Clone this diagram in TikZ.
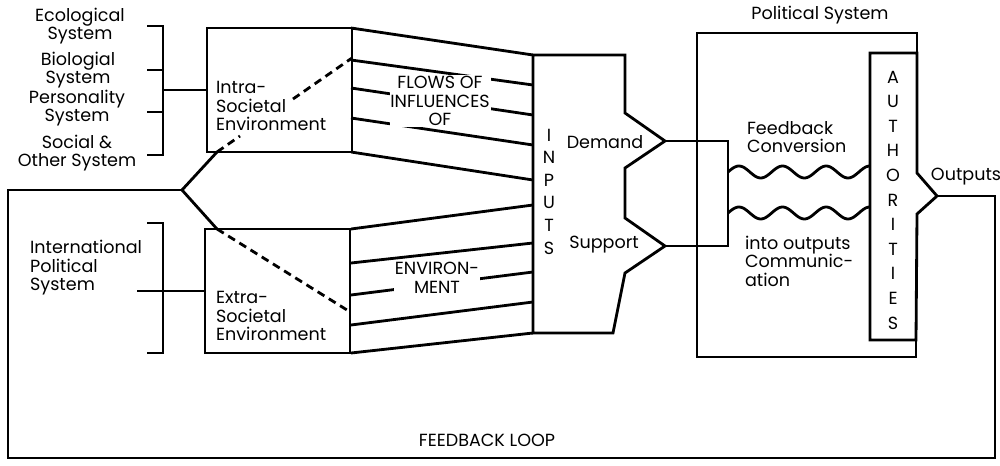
\documentclass[tikz,border=0pt]{standalone}
\usepackage{fontspec}
\setmainfont{Poppins}

\begin{document}
\begin{tikzpicture}[x=0.02cm, y=-0.02cm,
    every node/.style={font=\fontsize{10}{10.5}\selectfont, inner sep=1pt},
    wall/.style={line width=1.6pt},
    envbox/.style={draw, line width=1.6pt, minimum width=2.9cm, minimum height=2.48cm},
    dashwall/.style={line width=1.6pt, dash pattern=on 4.5pt off 3pt},
    txt/.style={align=center},
    ltxt/.style={align=left, anchor=west},
    over/.style={fill=white, align=center, inner sep=0.5pt}]
  \useasboundingbox (0,0) rectangle (1000,466);

  % environments
  \node[envbox] (intra) at (279.5,90) {};
  \node[envbox] (extra) at (277.5,291) {};

  % brackets of the systems
  \draw[wall] (147,26) -- (163,26) -- (163,155) -- (147,155);
  \foreach \y in {70,112} \draw[wall] (147,\y) -- (163,\y);
  \draw[wall] (163,90) -- (intra.west);
  \draw[wall] (147,223) -- (163,223) -- (163,353) -- (147,353);
  \draw[wall] (137,291) -- (extra.west);

  % fork and feedback loop
  \coordinate (fork) at (182,190);
  \coordinate (authtip) at (937,196);
  \draw[wall] (217,152) -- (fork) -- (217,229);
  \draw[wall] (fork) -- (8,190) -- (8,458) -- (995,458) -- (995,196) -- (authtip);
  \draw[dashwall] (217,152) -- (240,136);
  \draw[dashwall] (293,99) -- (352,58);
  \draw[dashwall] (217,229) -- (347,310);

  % flows into the inputs
  \foreach \a/\b in {28/55, 60/85, 88/115, 118/145, 152/180,
                     229/205, 263/243, 295/272, 325/302, 353/333}
    \draw[wall] (351,\a) -- (533,\b);

  % inputs
  \coordinate (dtip) at (665,141);
  \coordinate (stip) at (665,246);
  \draw[wall] (533,55) -- (625,55) -- (625,113) -- (dtip) -- (625,168) -- (625,218)
    -- (stip) -- (625,273) -- (613,333) -- (533,333) -- cycle;
  \draw[wall] (dtip) -- (728,141) -- (728,246) -- (stip);

  % political system and authorities
  \draw[wall] (917,53) -- (917,33) -- (697,33) -- (697,357) -- (916,357) -- (916,340);
  \draw[wall] (870,53) -- (917,53) -- (917,173) -- (authtip) -- (917,214) -- (916,340)
    -- (870,340) -- cycle;
  \foreach \w in {172,213}
    \draw[wall] plot[domain=728:870, samples=80, smooth] (\x,{\w-6*sin(8.25*(\x-728))});

  % labels
  \node[txt] (eco) at (80,26) {Ecological\\System};
  \node[txt] (bio) at (78,70) {Biologial\\System};
  \node[txt] (pers) at (77,108) {Personality\\System};
  \node[txt] (soc) at (77,153) {Social \&\\Other System};
  \node[ltxt] (intl) at (28,268) {International\\Political\\System};
  \node[ltxt] (intratxt) at (214,106) {Intra-\\Societal\\Environment};
  \node[ltxt] (extratxt) at (214,316) {Extra-\\Societal\\Environment};
  \node[over] (flows) at (440,101) {FLOWS OF\\INFLUENCES\\OF};
  \node[over] (environ) at (437,278) {ENVIRON-\\MENT};
  \node (demand) at (605,142) {Demand};
  \node (support) at (604,245) {Support};
  \node (polsys) at (820,15) {Political System};
  \node[ltxt] (feedback) at (745,137) {Feedback\\Conversion};
  \node[ltxt] (comm) at (743,261) {into outputs\\Communic-\\ation};
  \node (outputs) at (966,177) {Outputs};
  \node (loop) at (487,440) {FEEDBACK LOOP};
  \foreach \c [count=\i] in {I,N,P,U,T,S}
    \node (in\i) at (549,{135+22.6*(\i-1)}) {\c};
  \foreach \c [count=\i] in {A,U,T,H,O,R,I,T,I,E,S}
    \node (au\i) at (893,{77+24.6*(\i-1)}) {\c};
\end{tikzpicture}
\end{document}
